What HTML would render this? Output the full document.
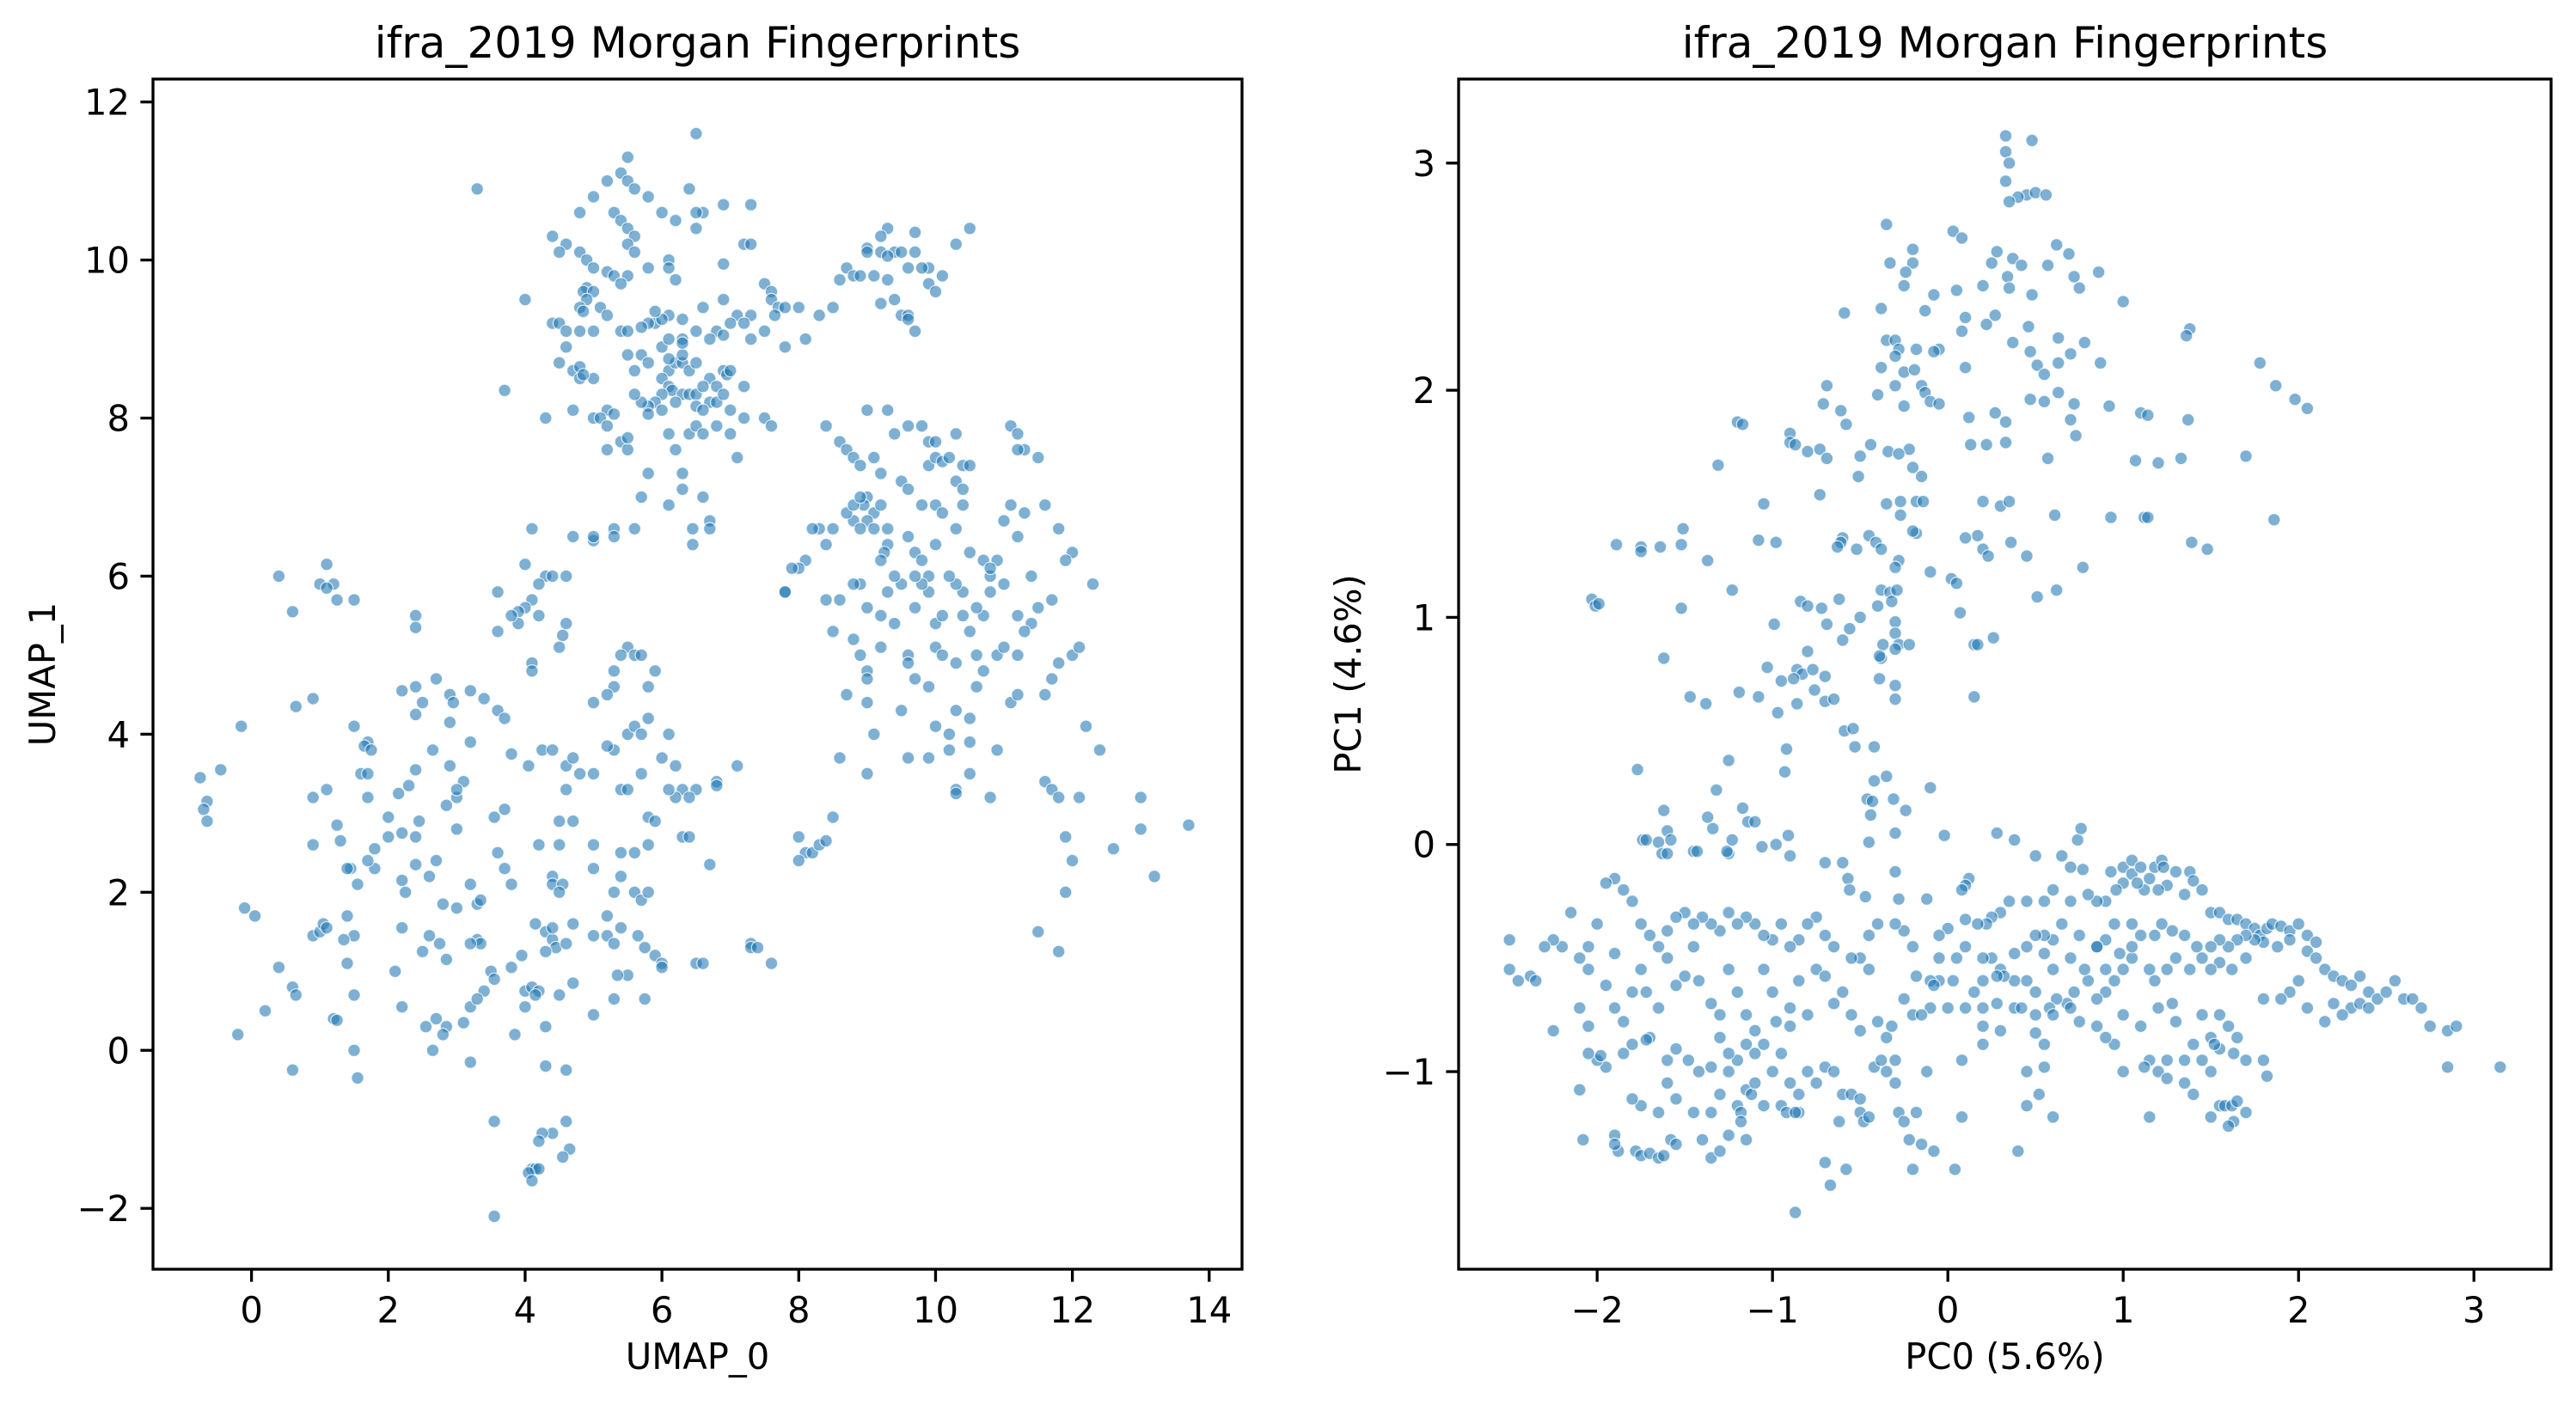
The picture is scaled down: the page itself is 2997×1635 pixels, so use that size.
<!DOCTYPE html>
<html><head><meta charset="utf-8"><title>ifra_2019 Morgan Fingerprints</title>
<style>html,body{margin:0;padding:0;background:#fff}svg{display:block}text{font-family:"DejaVu Sans","Liberation Sans",sans-serif;fill:#000}</style>
</head><body>
<svg id="fig" width="2997" height="1635" viewBox="0 0 2997 1635" xmlns="http://www.w3.org/2000/svg">
<rect width="2997" height="1635" fill="#fff"/>
<g id="p1"></g>
<g id="p2"></g>
</svg>
<script>
// ---- UMAP data ----
const umapPoints = [[6.5,11.6],[5.5,11.3],[5.4,11.1],[5.5,11.0],[5.6,10.9],[5.2,11.0],[5.0,10.8],[5.8,10.8],[6.4,10.9],[7.3,10.7],[6.9,10.7],[6.6,10.6],[6.5,10.6],[4.8,10.6],[5.3,10.6],[5.4,10.5],[6.0,10.6],[6.2,10.5],[6.5,10.4],[5.5,10.4],[5.6,10.3],[4.4,10.3],[4.6,10.2],[5.5,10.2],[7.2,10.2],[7.3,10.2],[5.6,10.1],[4.8,10.1],[4.5,10.1],[6.1,10.0],[5.8,9.9],[6.1,9.9],[4.9,10.0],[5.0,9.9],[5.2,9.85],[5.3,9.8],[5.5,9.8],[6.9,9.95],[7.5,9.7],[5.4,9.7],[4.9,9.65],[4.85,9.6],[5.0,9.6],[6.2,9.75],[4.9,9.5],[5.1,9.4],[4.8,9.4],[4.85,9.35],[5.2,9.3],[6.1,9.3],[6.3,9.25],[5.9,9.2],[6.0,9.25],[6.6,9.4],[6.9,9.5],[7.6,9.6],[7.6,9.5],[7.7,9.4],[7.8,9.4],[8.0,9.4],[7.65,9.3],[7.3,9.3],[7.1,9.3],[7.0,9.2],[6.8,9.1],[7.2,9.2],[7.3,9.0],[7.5,9.1],[7.8,8.9],[8.1,9.0],[8.3,9.3],[4.4,9.2],[4.5,9.2],[4.6,9.1],[4.8,9.1],[5.0,9.1],[5.4,9.1],[5.5,9.1],[5.8,9.2],[6.5,9.1],[6.3,9.0],[6.7,9.0],[6.9,9.05],[5.7,8.8],[5.5,8.8],[5.8,8.7],[4.5,8.7],[4.7,8.6],[4.8,8.65],[4.8,8.5],[5.0,8.5],[4.85,8.55],[5.6,8.6],[6.1,8.6],[6.0,8.5],[6.2,8.7],[6.3,8.7],[6.4,8.6],[6.5,8.7],[6.7,8.5],[6.9,8.6],[6.95,8.55],[7.0,8.6],[6.8,8.4],[6.1,8.4],[6.15,8.35],[6.3,8.3],[6.2,8.2],[6.4,8.3],[6.5,8.3],[6.6,8.4],[6.0,8.3],[5.9,8.2],[5.8,8.15],[5.7,8.2],[5.8,8.05],[6.0,8.1],[6.5,8.15],[6.7,8.2],[6.8,8.2],[6.9,8.3],[7.0,8.1],[7.2,8.4],[7.2,8.0],[5.2,8.1],[5.3,8.05],[5.0,8.0],[5.1,8.0],[5.2,7.9],[4.7,8.1],[4.3,8.0],[5.4,7.7],[5.5,7.6],[5.2,7.6],[5.5,7.75],[6.1,7.8],[6.2,7.6],[6.4,7.8],[6.5,7.9],[6.6,7.8],[6.8,7.9],[7.1,7.5],[7.5,8.0],[7.6,7.9],[5.8,7.3],[6.3,7.3],[6.3,7.1],[6.1,6.9],[5.7,7.0],[6.6,7.0],[6.7,6.7],[6.7,6.6],[6.45,6.4],[6.45,6.6],[5.6,8.3],[6.0,8.9],[6.3,8.8],[6.1,9.0],[4.6,8.9],[4.0,9.5],[3.7,8.35],[5.7,9.15],[5.9,9.35],[6.3,8.95],[6.6,8.1],[7.0,7.8],[6.1,8.75],
[9.3,10.4],[9.2,10.3],[9.7,10.35],[10.5,10.4],[10.3,10.2],[9.0,10.15],[9.0,10.1],[9.2,10.1],[9.4,10.1],[9.5,10.1],[9.7,10.1],[8.7,9.9],[8.6,9.75],[8.8,9.8],[8.9,9.8],[9.3,10.05],[9.1,9.8],[9.3,9.75],[9.6,9.9],[9.9,9.9],[9.8,9.9],[9.9,9.7],[10.1,9.8],[10.0,9.6],[9.4,9.5],[9.5,9.3],[9.6,9.3],[9.6,9.25],[9.7,9.1],[9.2,9.45],[8.5,9.4],
[9,8.1],[9.3,8.1],[8.4,7.9],[9.6,7.9],[9.8,7.9],[9.4,7.8],[9.9,7.7],[10.0,7.7],[10.3,7.8],[11.1,7.9],[11.2,7.8],[11.3,7.6],[11.2,7.6],[11.5,7.5],[8.6,7.7],[8.7,7.6],[8.8,7.5],[8.9,7.4],[9.1,7.5],[9.2,7.3],[9.9,7.4],[10.0,7.5],[10.1,7.45],[10.2,7.5],[10.4,7.4],[10.5,7.4],[10.3,7.2],[10.4,7.1],[9.5,7.2],[9.6,7.1],[9.0,7.0],[8.95,6.9],[9.1,6.8],[9.2,6.9],[9.0,6.7],[8.8,6.7],[8.9,6.6],[9.1,6.6],[8.5,6.6],[8.3,6.6],[8.2,6.6],[8.4,6.4],[8.7,6.8],[8.8,6.9],[8.9,7.0],[9.3,6.6],[9.3,6.4],[9.25,6.3],[9.2,6.2],[9.6,6.5],[9.7,6.3],[9.8,6.2],[9.9,6.0],[9.8,6.9],[10.0,6.9],[10.1,6.8],[10.3,6.6],[10.4,6.9],[10.5,6.3],[10.7,6.2],[10.8,6.0],[10.9,6.2],[11.0,6.7],[11.1,6.9],[11.2,6.5],[11.4,6.0],[11.6,6.9],[11.8,6.6],[12.0,6.3],[11.9,6.2],[12.3,5.9],[11.7,5.7],[11.5,5.6],[11.4,5.4],[11.3,5.3],[11.2,5.5],[11.0,5.9],[10.8,5.8],[10.7,5.5],[10.6,5.6],[10.4,5.8],[10.3,5.9],[10.2,6.0],[10.0,5.4],[10.1,5.5],[9.9,5.8],[9.8,5.9],[9.7,5.6],[9.5,5.9],[9.4,6.0],[9.3,5.8],[9.2,5.5],[9.0,5.6],[8.9,5.9],[8.8,5.9],[8.6,5.7],[8.1,6.2],[8.0,6.1],[7.9,6.1],[7.8,5.8],[8.4,5.7],[8.5,5.3],[8.8,5.2],[8.9,5.0],[9.0,4.8],[9.0,4.7],[9.2,5.1],[9.4,5.4],[9.6,5.0],[9.6,4.9],[9.7,4.7],[9.9,4.6],[10.0,5.1],[10.1,5.0],[10.3,4.9],[10.4,5.5],[10.5,5.3],[10.6,5.0],[10.7,4.8],[10.9,5.0],[11.0,5.1],[11.1,4.4],[11.2,4.5],[11.6,4.5],[11.7,4.7],[11.8,4.9],[12.0,5.0],[12.1,5.1],[11.2,5.0],[10.3,4.3],[10.5,4.2],[10.6,4.6],[10.0,4.1],[10.2,4.0],[9.9,3.7],[9.6,3.7],[9.5,4.3],[9.1,4.0],[8.7,4.5],[9.0,4.4],[10.3,3.3],[10.3,3.25],[10.5,3.5],[10.8,3.2],[10.2,3.8],[10.5,3.9],[10.9,3.8],[11.6,3.4],[11.7,3.3],[11.8,3.2],[8.6,3.7],[9.0,3.5],[8.5,2.95],[8.0,2.7],[8.1,2.5],[8.2,2.5],[8.3,2.6],[8.4,2.65],[8.0,2.4],[12.1,3.2],[12.2,4.1],[12.4,3.8],[12.0,2.4],[11.9,2.7],[12.6,2.55],[13.0,3.2],[13.0,2.8],[13.2,2.2],[13.7,2.85],[11.9,2.0],[11.5,1.5],[11.8,1.25],[10.8,6.1],[9.7,6.0],[10.0,6.4],[11.3,6.8],
[3.3,10.9],[1.1,6.15],[0.4,6.0],[1.0,5.9],[1.2,5.9],[1.1,5.85],[1.25,5.7],[1.5,5.7],[0.6,5.55],[4.1,6.6],[4.0,6.15],[4.3,6.0],[4.4,6.0],[4.6,6.0],[4.2,5.9],[4.1,5.7],[4.0,5.6],[3.9,5.55],[3.6,5.3],[3.9,5.4],[3.8,5.5],[3.6,5.8],[4.2,5.5],[4.6,5.4],[4.55,5.25],[4.5,5.1],[2.4,5.5],[2.4,5.35],[5.0,6.45],[5.0,6.5],[5.3,6.6],[5.3,6.5],[5.6,6.6],[4.7,6.5],[4.1,4.9],[4.1,4.8],[5.5,5.1],[5.4,5.0],[5.6,5.0],[5.7,5.0],[5.3,4.8],[5.8,4.6],[5.9,4.8],[5.3,4.6],[5.2,4.5],[5.0,4.4],[2.7,4.7],[3.2,4.55],[3.4,4.45],[2.2,4.55],[2.4,4.6],[2.9,4.5],[2.95,4.4],[2.5,4.4],[3.6,4.3],[3.7,4.2],[2.4,4.25],[2.9,4.15],[1.5,4.1],[-0.15,4.1],[0.65,4.35],[0.9,4.45],[1.7,3.9],[1.65,3.85],[1.75,3.8],[2.65,3.8],[3.2,3.9],[4.25,3.8],[4.4,3.8],[3.8,3.75],[5.3,3.8],[5.2,3.85],[5.5,4.0],[5.6,4.1],[5.8,4.2],[5.7,4.0],[6.1,4.0],[5.7,3.5],[6.2,3.6],[6.5,3.3],[6.8,3.4],[6.8,3.35],[7.1,3.6],[-0.75,3.45],[-0.45,3.55],[1.1,3.3],[0.9,3.2],[1.6,3.5],[1.7,3.5],[2.0,2.95],[1.7,3.2],[2.15,3.25],[2.3,3.35],[2.9,3.6],[3.1,3.4],[3.0,3.2],[2.85,3.1],[2.4,3.55],[3.0,3.3],[4.05,3.6],[4.6,3.6],[4.7,3.7],[4.6,3.3],[4.8,3.5],[5.0,3.5],[5.4,3.3],[5.5,3.3],[6.3,3.3],[6.2,3.2],[6.4,3.2],[-0.65,3.15],[-0.7,3.05],[-0.65,2.9],[1.25,2.85],[1.3,2.65],[0.9,2.6],[1.8,2.55],[2.0,2.7],[2.2,2.75],[2.4,2.7],[2.45,2.9],[3.0,2.8],[3.55,2.95],[3.6,2.5],[3.7,3.05],[4.2,2.6],[4.5,2.9],[4.5,2.6],[4.7,2.9],[5.4,2.5],[5.6,2.5],[5.8,2.6],[5.8,2.95],[5.9,2.9],[6.3,2.7],[6.4,2.7],[6.7,2.35],[5.6,2.0],[5.7,1.9],[5.8,2.0],[5.4,2.2],[5.0,2.3],[5.3,2.0],[5.0,2.6],[4.4,2.2],[4.4,2.1],[4.55,2.1],[4.5,2.0],[3.7,2.3],[3.8,2.1],[3.2,2.1],[2.7,2.4],[2.6,2.2],[2.4,2.35],[2.2,2.15],[2.25,2.0],[1.45,2.3],[1.4,2.3],[1.8,2.3],[1.55,2.1],[1.7,2.4],[-0.1,1.8],[0.05,1.7],[0.9,1.45],[1.0,1.5],[1.05,1.6],[1.1,1.55],[1.4,1.7],[1.5,1.45],[1.35,1.4],[2.2,1.55],[2.6,1.45],[2.8,1.85],[3.0,1.8],[3.3,1.85],[3.35,1.9],[3.3,1.4],[3.35,1.35],[3.2,1.35],[2.75,1.35],[2.85,1.15],[3.2,0.55],[2.5,1.25],[2.1,1.0],[1.4,1.1],[0.4,1.05],[0.6,0.8],[0.65,0.7],[0.2,0.5],[-0.2,0.2],[1.2,0.4],[1.25,0.38],[1.5,0.7],[2.2,0.55],[2.55,0.3],[2.85,0.3],[2.8,0.2],[2.7,0.4],[3.1,0.35],[3.5,1.0],[3.55,0.9],[3.4,0.75],[3.3,0.65],[3.8,1.05],[3.95,1.2],[4.15,1.6],[4.3,1.5],[4.4,1.4],[4.45,1.3],[4.6,1.35],[4.7,1.6],[4.3,1.25],[4.4,1.55],[4.0,0.75],[4.1,0.8],[4.2,0.75],[4.5,0.7],[4.7,0.85],[3.85,0.2],[4.0,0.55],[4.3,0.3],[4.15,0.7],[5.0,1.45],[5.2,1.45],[5.3,1.35],[5.4,1.55],[5.65,1.45],[5.75,1.3],[5.0,0.45],[5.3,0.65],[5.5,0.95],[5.35,0.95],[5.75,0.65],[5.9,1.2],[6.0,1.1],[6.0,1.05],[6.5,1.1],[6.6,1.1],[7.3,1.35],[7.3,1.3],[7.4,1.3],[7.6,1.1],[6.0,3.7],[5.2,1.7],[6.1,3.3],[1.5,0.0],[1.55,-0.35],[0.6,-0.25],[2.65,0.0],[3.2,-0.15],[4.3,-0.2],[4.6,-0.25],[3.55,-0.9],[4.6,-0.9],[4.4,-1.05],[4.25,-1.05],[4.2,-1.15],[4.65,-1.25],[4.55,-1.35],[4.1,-1.5],[4.15,-1.5],[4.2,-1.5],[4.05,-1.55],[4.1,-1.65],[3.55,-2.1],[7.8,5.8]];
const umapXTicks = [0,2,4,6,8,10,12,14];
const umapYTicks = [-2,0,2,4,6,8,10,12];
// ---- PCA data ----
const pcaPoints = [[0.33,3.12],[0.48,3.1],[0.33,3.05],[0.35,3.0],[0.33,2.92],[0.45,2.86],[0.5,2.87],[0.56,2.86],[0.4,2.85],[0.35,2.83],[-0.35,2.73],[0.03,2.7],[0.08,2.67],[0.62,2.64],[0.28,2.61],[0.69,2.6],[-0.2,2.62],[-0.33,2.56],[-0.2,2.56],[0.25,2.56],[0.37,2.58],[0.42,2.55],[0.57,2.55],[0.86,2.52],[-0.24,2.52],[0.72,2.5],[0.34,2.5],[-0.25,2.46],[0.2,2.46],[0.35,2.45],[0.75,2.45],[0.05,2.44],[-0.08,2.42],[0.48,2.42],[1.0,2.39],[-0.38,2.36],[-0.13,2.35],[0.27,2.33],[0.1,2.32],[0.46,2.28],[0.08,2.26],[0.22,2.29],[-0.59,2.34],[-0.35,2.22],[-0.3,2.22],[-0.28,2.18],[-0.18,2.18],[-0.05,2.18],[-0.08,2.17],[0.37,2.21],[0.63,2.23],[0.78,2.21],[0.7,2.16],[0.47,2.17],[0.51,2.11],[0.63,2.12],[0.55,2.07],[0.87,2.12],[1.38,2.27],[1.36,2.24],[1.78,2.12],[1.87,2.02],[1.98,1.96],[2.05,1.92],[-0.38,2.1],[-0.3,2.15],[-0.25,2.08],[-0.19,2.09],[-0.15,2.02],[0.1,2.1],[-0.3,2.02],[-0.4,1.98],[-0.13,1.99],[0.47,1.96],[0.55,1.95],[0.63,1.99],[0.72,1.94],[-0.1,1.95],[-0.05,1.94],[-0.25,1.93],[-0.61,1.91],[-0.71,1.94],[-0.69,2.02],[-0.58,1.85],[0.27,1.9],[0.33,1.86],[0.12,1.88],[0.92,1.93],[1.1,1.9],[1.14,1.89],[1.37,1.87],[0.7,1.87],[0.73,1.8],[-1.2,1.86],[-1.17,1.85],[-0.9,1.81],[-0.9,1.77],[-0.87,1.76],[-0.8,1.73],[-0.73,1.74],[-0.69,1.7],[-0.44,1.76],[-0.5,1.71],[-0.34,1.73],[-0.22,1.74],[-0.28,1.72],[0.13,1.76],[0.22,1.76],[0.33,1.77],[-1.31,1.67],[-0.73,1.54],[-0.51,1.62],[-0.2,1.66],[-0.15,1.62],[-0.35,1.5],[-0.27,1.51],[-0.18,1.51],[-0.14,1.51],[-0.27,1.45],[0.2,1.51],[0.3,1.49],[0.35,1.51],[0.61,1.45],[1.07,1.69],[1.2,1.68],[1.33,1.7],[1.7,1.71],[0.57,1.7],[0.93,1.44],[1.12,1.44],[1.14,1.44],[1.86,1.43],[1.39,1.33],[1.48,1.3],[-1.89,1.32],[-1.75,1.31],[-1.75,1.29],[-1.64,1.31],[-1.51,1.39],[-1.52,1.32],[-1.37,1.25],[-1.08,1.34],[-0.98,1.33],[-1.05,1.5],[-0.6,1.35],[-0.61,1.33],[-0.63,1.31],[-0.52,1.3],[-0.45,1.36],[-0.41,1.33],[-0.38,1.3],[-0.18,1.37],[-0.2,1.38],[-0.28,1.25],[-0.3,1.22],[-0.1,1.2],[0.02,1.17],[0.05,1.15],[0.1,1.35],[0.17,1.36],[0.2,1.3],[0.23,1.27],[0.45,1.27],[0.36,1.33],[0.77,1.22],[-1.23,1.12],[-1.52,1.04],[-2.03,1.08],[-2.01,1.05],[-0.84,1.07],[-0.8,1.05],[-0.72,1.04],[-0.62,1.08],[-0.69,0.97],[-0.56,0.95],[-0.6,0.9],[-0.5,1.0],[-0.4,1.05],[-0.38,1.12],[-0.33,1.11],[-0.29,1.12],[-0.32,1.07],[-0.3,0.98],[-0.3,0.93],[-0.28,0.88],[-0.3,0.86],[-0.22,0.88],[-0.37,0.88],[-0.38,0.82],[0.07,1.02],[0.15,0.88],[0.26,0.91],[0.17,0.88],[0.51,1.09],[0.62,1.12],[-0.99,0.97],[-1.03,0.78],[-0.95,0.72],[-0.8,0.85],[-0.86,0.77],[-0.83,0.75],[-0.77,0.77],[-0.76,0.68],[-0.88,0.73],[-0.7,0.74],[-0.86,0.62],[-0.97,0.58],[-0.7,0.63],[-0.65,0.64],[-0.39,0.73],[-0.39,0.83],[-0.3,0.7],[-0.3,0.64],[-0.59,0.5],[-0.54,0.51],[-0.53,0.43],[-0.42,0.43],[-1.19,0.67],[-1.08,0.65],[-1.38,0.62],[-1.47,0.65],[-1.62,0.82],[-1.99,1.06],[0.15,0.65],[-0.92,0.42],[-0.93,0.32],[-0.42,0.28],[-0.35,0.3],[-0.46,0.2],[-0.43,0.19],[-0.44,0.13],[-0.31,0.2],[-0.24,0.15],[-1.25,0.37],[-1.32,0.24],[-1.77,0.33],[-1.37,0.12],[-1.17,0.16],[-1.14,0.1],[-1.1,0.1],[-1.34,0.07],[-0.1,0.25],[-0.3,0.05],[-0.02,0.04],[-0.45,0.01],
[-1.62,0.15],[-1.6,0.06],[-1.74,0.02],[-1.72,0.02],[-1.65,0.01],[-1.58,0.02],[-1.63,-0.04],[-1.6,-0.04],[-1.45,-0.03],[-1.43,-0.03],[-1.23,0.02],[-1.25,-0.04],[-1.26,-0.03],[-1.06,-0.01],[-0.91,0.04],[-0.9,-0.05],[-0.98,0.0],[-0.7,-0.08],[-0.6,-0.08],[-0.57,-0.15],[-0.56,-0.2],[-0.47,-0.23],[-0.3,-0.12],[-0.28,-0.24],[-0.12,-0.24],[0.12,-0.15],[0.1,-0.18],[0.28,0.05],[0.38,0.02],[0.5,-0.05],[0.65,-0.05],[0.74,0.02],[0.76,0.07],[0.7,-0.1],[0.77,-0.11],[0.93,-0.12],[1.0,-0.1],[1.05,-0.07],[1.05,-0.13],[1.1,-0.1],[1.15,-0.15],[1.18,-0.1],[1.22,-0.07],[1.23,-0.1],[1.3,-0.12],[1.38,-0.12],[1.4,-0.16],[1.35,-0.22],[1.25,-0.18],[1.2,-0.2],[1.12,-0.2],[1.08,-0.17],[1.0,-0.17],[0.96,-0.2],[0.9,-0.25],[0.85,-0.25],[0.8,-0.22],[0.7,-0.25],[0.6,-0.2],[0.55,-0.25],[0.45,-0.25],[0.35,-0.25],[0.3,-0.3],[0.25,-0.32],[0.22,-0.35],[0.17,-0.35],[0.1,-0.33],[0.0,-0.37],[-0.05,-0.4],[1.45,-0.2],[1.5,-0.3],[1.55,-0.3],[1.6,-0.33],[1.65,-0.33],[1.7,-0.35],[1.75,-0.37],[1.78,-0.4],[1.82,-0.37],[1.85,-0.35],[1.9,-0.36],[1.95,-0.38],[2.0,-0.35],[2.05,-0.4],[2.1,-0.43],[2.05,-0.47],[1.95,-0.42],[1.88,-0.45],[1.8,-0.43],[1.75,-0.42],[1.7,-0.4],[1.65,-0.42],[1.6,-0.45],[1.55,-0.42],[1.5,-0.45],[1.42,-0.45],[1.35,-0.4],[1.28,-0.38],[1.22,-0.35],[1.18,-0.4],[1.1,-0.4],[1.05,-0.35],[0.95,-0.35],[0.9,-0.42],[0.85,-0.45],[0.75,-0.4],[0.65,-0.35],[0.6,-0.42],[0.55,-0.4],[0.5,-0.4],[0.45,-0.45],[0.38,-0.48],[0.3,-0.55],[0.25,-0.5],[0.2,-0.5],[0.1,-0.45],[0.05,-0.5],[-0.05,-0.5],[2.1,-0.5],[2.15,-0.55],[2.2,-0.58],[2.25,-0.6],[2.3,-0.62],[2.35,-0.58],[2.4,-0.65],[2.45,-0.68],[2.5,-0.65],[2.55,-0.6],[2.6,-0.68],[2.65,-0.68],[2.7,-0.72],[2.75,-0.8],[2.85,-0.82],[2.9,-0.8],[2.85,-0.98],[3.15,-0.98],[2.2,-0.7],[2.3,-0.72],[2.35,-0.7],[2.4,-0.72],[2.25,-0.75],[2.15,-0.78],[2.05,-0.72],[2.0,-0.6],[1.95,-0.65],[1.9,-0.68],[1.8,-0.68],[1.7,-0.5],[1.62,-0.55],[1.55,-0.52],[1.45,-0.5],[1.5,-0.55],[1.38,-0.55],[1.3,-0.5],[1.25,-0.55],[1.15,-0.55],[1.05,-0.5],[1.0,-0.55],[0.95,-0.6],[0.9,-0.65],[0.85,-0.68],[0.8,-0.6],[0.72,-0.65],[0.68,-0.7],[0.62,-0.68],[0.58,-0.72],[0.5,-0.65],[0.45,-0.6],[0.38,-0.6],[0.32,-0.58],[0.28,-0.58],[0.2,-0.6],[0.15,-0.65],[0.1,-0.72],[0.2,-0.72],[0.38,-0.72],[0.5,-0.75],[0.6,-0.75],[0.7,-0.72],[0.75,-0.78],[0.85,-0.8],[1.0,-0.75],[1.1,-0.8],[1.2,-0.72],[1.28,-0.7],[1.3,-0.78],[1.45,-0.75],[1.55,-0.75],[1.6,-0.8],[1.5,-0.85],[1.55,-0.9],[1.65,-0.85],[1.63,-0.92],[1.7,-0.95],[1.8,-0.95],[1.82,-1.02],[1.45,-0.95],[1.4,-0.88],[1.35,-0.95],[1.25,-0.95],[1.15,-0.95],[1.12,-0.98],[1.2,-1.0],[1.25,-1.03],[1.35,-1.05],[1.4,-1.1],[1.5,-1.0],[1.55,-1.15],[1.5,-1.2],[1.58,-1.15],[1.62,-1.15],[1.65,-1.13],[1.7,-1.18],[1.63,-1.22],[1.6,-1.24],[1.15,-1.2],[1.0,-1.0],[0.95,-0.88],[0.9,-0.85],[0.55,-0.88],[0.5,-0.83],[0.55,-0.98],[0.45,-1.0],[0.52,-1.1],[0.45,-1.15],[0.6,-1.2],[0.4,-1.35],[0.08,-0.95],[0.2,-0.88],[0.0,-0.72],[-0.1,-0.72],[-0.05,-0.6],[-0.1,-0.6],[0.03,-0.6],[0.08,-0.2],[-0.08,-0.62],[-0.2,-0.45],[-0.25,-0.38],[-0.3,-0.35],[-0.4,-0.35],[-0.45,-0.4],[-0.5,-0.5],[-0.55,-0.5],[-0.65,-0.45],[-0.7,-0.4],[-0.75,-0.32],[-0.8,-0.35],[-0.85,-0.42],[-0.9,-0.45],[-0.95,-0.35],[-1.0,-0.42],[-1.05,-0.4],[-1.1,-0.35],[-1.15,-0.32],[-1.2,-0.35],[-1.25,-0.3],[-1.3,-0.38],[-1.35,-0.35],[-1.4,-0.32],[-1.45,-0.35],[-1.5,-0.3],[-1.55,-0.32],[-1.6,-0.38],[-1.65,-0.45],[-1.7,-0.4],[-1.75,-0.35],[-1.8,-0.25],[-1.85,-0.2],[-1.9,-0.15],[-1.95,-0.17],[-2.0,-0.35],[-2.05,-0.45],[-2.1,-0.5],[-2.15,-0.3],[-2.2,-0.45],[-2.25,-0.42],[-2.3,-0.45],[-2.5,-0.42],[-2.5,-0.55],[-2.45,-0.6],[-2.38,-0.58],[-2.35,-0.6],[-2.25,-0.82],[-2.1,-0.72],[-2.05,-0.55],[-2.05,-0.8],[-1.95,-0.62],[-1.9,-0.48],[-1.85,-0.78],[-1.8,-0.65],[-1.75,-0.55],[-1.72,-0.65],[-1.65,-0.72],[-1.6,-0.5],[-1.55,-0.62],[-1.5,-0.58],[-1.45,-0.45],[-1.42,-0.6],[-1.35,-0.7],[-1.3,-0.75],[-1.25,-0.55],[-1.2,-0.65],[-1.15,-0.75],[-1.1,-0.82],[-1.05,-0.55],[-1.0,-0.65],[-0.98,-0.78],[-0.9,-0.72],[-0.85,-0.6],[-0.8,-0.75],[-0.75,-0.55],[-0.7,-0.58],[-0.65,-0.7],[-0.6,-0.65],[-0.55,-0.75],[-0.5,-0.82],[-0.45,-0.55],[-0.4,-0.78],[-0.35,-0.85],[-0.32,-0.8],[-0.3,-0.95],[-0.25,-0.68],[-0.2,-0.75],[-0.18,-0.58],[-0.15,-0.75],[-0.9,-0.8],[-0.95,-0.92],[-1.05,-0.88],[-1.1,-0.92],[-1.15,-0.88],[-1.2,-0.95],[-1.25,-0.92],[-1.3,-0.85],[-1.35,-0.98],[-1.42,-1.0],[-1.48,-0.95],[-1.55,-0.9],[-1.6,-0.95],[-1.7,-0.85],[-1.72,-0.86],[-1.8,-0.88],[-1.85,-0.92],[-1.95,-0.98],[-2.0,-0.95],[-1.98,-0.93],[-2.05,-0.92],[-1.9,-0.72],[-2.1,-1.08],[-2.08,-1.3],[-1.9,-1.28],[-1.88,-1.35],[-1.9,-1.32],[-1.78,-1.35],[-1.75,-1.37],[-1.7,-1.36],[-1.65,-1.38],[-1.62,-1.37],[-1.58,-1.3],[-1.55,-1.32],[-1.75,-1.15],[-1.8,-1.12],[-1.65,-1.18],[-1.6,-1.05],[-1.55,-1.12],[-1.45,-1.18],[-1.4,-1.3],[-1.35,-1.38],[-1.3,-1.35],[-1.35,-1.18],[-1.3,-1.1],[-1.25,-1.0],[-1.2,-1.15],[-1.18,-1.18],[-1.15,-1.08],[-1.12,-1.1],[-1.1,-1.05],[-1.05,-1.15],[-1.0,-1.0],[-0.95,-1.15],[-0.92,-1.18],[-0.9,-1.05],[-0.85,-1.1],[-0.8,-1.0],[-0.75,-1.05],[-0.7,-0.98],[-0.65,-1.0],[-0.6,-1.1],[-0.55,-1.1],[-0.5,-1.18],[-0.48,-1.22],[-0.45,-1.2],[-0.5,-1.12],[-0.42,-0.98],[-0.38,-0.95],[-0.35,-1.0],[-0.3,-1.05],[-0.28,-1.18],[-0.25,-1.22],[-0.22,-1.3],[-0.18,-1.18],[-0.15,-1.32],[-0.08,-1.35],[-1.25,-1.28],[-1.15,-1.3],[-1.18,-1.22],[-0.85,-1.18],[-0.87,-1.18],[-0.62,-1.22],[-0.7,-1.4],[-0.58,-1.43],[-0.67,-1.5],[-0.87,-1.62],[-0.2,-1.43],[0.04,-1.43],[0.08,-1.2],[-0.12,-1.0],[0.3,-0.82],[0.2,-0.8],[0.28,-0.7],[0.42,-0.72],[0.9,-0.55],[0.98,-0.48],[1.05,-0.45],[1.18,-0.6],[0.78,-0.55],[0.7,-0.5],[0.6,-0.55],[0.55,-0.48],[0.85,-0.45],[1.52,-0.88]];
const pcaXTicks = [-2,-1,0,1,2,3];
const pcaYTicks = [-1,0,1,2,3];

const NS = "http://www.w3.org/2000/svg";
function mk(tag, attrs, parent){
  const e = document.createElementNS(NS, tag);
  for (const k in attrs) e.setAttribute(k, attrs[k]);
  parent.appendChild(e);
  return e;
}
function fmt(v){ return v < 0 ? "\u2212" + Math.abs(v) : String(v); }

function drawPanel(g, cfg){
  const {L,R,T,B,xmin,xmax,ymin,ymax,points,xTicks,yTicks,xlabel,ylabel,ylabelX,prefix} = cfg;
  const sx = v => L + (v - xmin) / (xmax - xmin) * (R - L);
  const sy = v => B - (v - ymin) / (ymax - ymin) * (B - T);
  const pts = mk('g', {}, g);
  
  
  points.forEach(p => {
    const c = mk('circle', {cx: sx(p[0]).toFixed(1), cy: sy(p[1]).toFixed(1), r: 7.2, fill: '#1f77b4', 'fill-opacity': 0.58, stroke: '#fff', 'stroke-width': 1.2, 'stroke-opacity': 0.8}, pts);
    
    
  });
  const fr = mk('rect', {x: L, y: T, width: R - L, height: B - T, fill: 'none', stroke: '#000', 'stroke-width': 3.3}, g);
  
  
  xTicks.forEach(v => {
    const x = sx(v);
    const tl = mk('line', {x1: x, x2: x, y1: B, y2: B + 14.6, stroke: '#000', 'stroke-width': 3.3}, g);
    
    
    const t = mk('text', {x: x, y: B + 62, 'font-size': 41.7, 'text-anchor': 'middle'}, g);
    t.textContent = fmt(v);
    
    
  });
  yTicks.forEach(v => {
    const y = sy(v);
    const tl = mk('line', {x1: L - 14.6, x2: L, y1: y, y2: y, stroke: '#000', 'stroke-width': 3.3}, g);
    
    
    const t = mk('text', {x: L - 27, y: y + 15, 'font-size': 41.7, 'text-anchor': 'end'}, g);
    t.textContent = fmt(v);
    
    
  });
  const ti = mk('text', {x: (L + R) / 2, y: T - 25, 'font-size': 50, 'text-anchor': 'middle'}, g);
  ti.textContent = 'ifra_2019 Morgan Fingerprints';
  
  
  const xl = mk('text', {x: (L + R) / 2, y: B + 116, 'font-size': 41.7, 'text-anchor': 'middle'}, g);
  xl.textContent = xlabel;
  
  
  const cy = (T + B) / 2;
  const yl = mk('text', {x: ylabelX, y: cy, 'font-size': 41.7, 'text-anchor': 'middle', transform: `rotate(-90 ${ylabelX} ${cy})`}, g);
  yl.textContent = ylabel;
  
  
}

drawPanel(document.getElementById('p1'), {L:178, R:1445, T:92, B:1477, xmin:-1.44, xmax:14.48, ymin:-2.77, ymax:12.29,
  points: umapPoints, xTicks: umapXTicks, yTicks: umapYTicks, xlabel: 'UMAP_0', ylabel: 'UMAP_1', ylabelX: 64, prefix: 'umap'});
drawPanel(document.getElementById('p2'), {L:1697, R:2968, T:92, B:1477, xmin:-2.79, xmax:3.44, ymin:-1.87, ymax:3.37,
  points: pcaPoints, xTicks: pcaXTicks, yTicks: pcaYTicks, xlabel: 'PC0 (5.6%)', ylabel: 'PC1 (4.6%)', ylabelX: 1583, prefix: 'pca'});
</script>
</body></html>
